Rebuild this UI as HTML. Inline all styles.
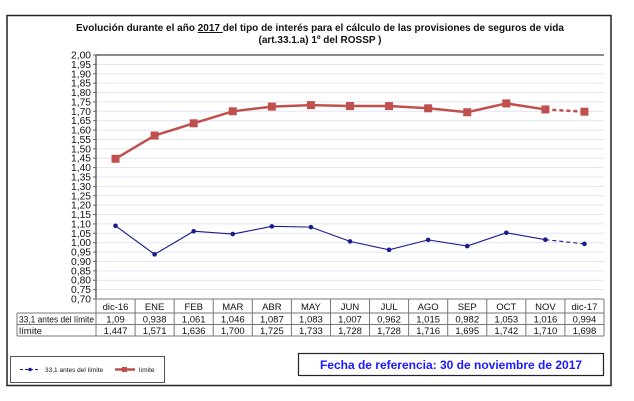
<!DOCTYPE html>
<html><head><meta charset="utf-8"><style>
html,body{margin:0;padding:0;background:#fff;}
svg{display:block;font-family:"Liberation Sans",Arial,sans-serif;}
</style></head><body>
<svg width="634" height="401" viewBox="0 0 634 401" xmlns="http://www.w3.org/2000/svg">
<rect x="0" y="0" width="634" height="401" fill="#fff"/>
<rect x="7" y="15.5" width="604" height="370" fill="#fff" stroke="#222" stroke-width="1.5"/>
<text x="320" y="31" font-size="10" font-weight="bold" text-anchor="middle" fill="#111">Evolución durante el año <tspan text-decoration="underline">2017 </tspan>del tipo de interés para el cálculo de las provisiones de seguros de vida</text>
<text x="320" y="43" font-size="10" font-weight="bold" text-anchor="middle" fill="#111">(art.33.1.a) 1º del ROSSP )</text>
<g id="grid"></g>
<g id="tbl"></g>
<g id="series"></g>
<rect x="10.5" y="356.5" width="154" height="26" fill="#fff" stroke="#555" stroke-width="1"/>
<line x1="20" y1="369.5" x2="40" y2="369.5" stroke="#1a1a8c" stroke-width="1" stroke-dasharray="3,2"/>
<circle cx="30" cy="369.5" r="1.8" fill="#1a1a8c"/>
<text x="45" y="372" font-size="6.5" fill="#111">33,1 antes del límite</text>
<line x1="115" y1="369.5" x2="135" y2="369.5" stroke="#c0504d" stroke-width="2.5"/>
<rect x="122" y="367" width="5" height="5" fill="#c0504d"/>
<text x="139" y="372" font-size="6.5" fill="#111">límite</text>
<rect x="298.5" y="353.5" width="305" height="22" fill="#fff" stroke="#222" stroke-width="1.2"/>
<text x="451" y="369" font-size="12" font-weight="bold" text-anchor="middle" fill="#1a1aff">Fecha de referencia: 30 de noviembre de 2017</text>
</svg>
<script>
const ns="http://www.w3.org/2000/svg";
function el(p,t,a,txt){const e=document.createElementNS(ns,t);for(const k in a)e.setAttribute(k,a[k]);if(txt!==undefined)e.textContent=txt;p.appendChild(e);return e;}
const L=96,R=604,T=55,B=299;
const Y=v=>B-(v-0.70)/1.30*(B-T);
const cw=(R-L)/13, X=i=>L+cw*(i+0.5);
const g=document.getElementById('grid');
for(let i=0;i<=26;i++){const v=0.70+i*0.05,y=Y(v);
 if(i>0&&i<26) el(g,'line',{x1:L,y1:y,x2:R,y2:y,stroke:'#dfe6f0','stroke-width':1});
 el(g,'line',{x1:L-3,y1:y,x2:L,y2:y,stroke:'#666','stroke-width':1});
 el(g,'text',{x:L-5,y:y+3.5,'font-size':10,'text-anchor':'end',fill:'#111','textLength':20,'lengthAdjust':'spacingAndGlyphs'},v.toFixed(2).replace('.',','));}
el(g,'line',{x1:L,y1:T,x2:R,y2:T,stroke:'#444','stroke-width':1.2});
el(g,'line',{x1:L,y1:T,x2:L,y2:B,stroke:'#666','stroke-width':1.5});
const cats=['dic-16','ENE','FEB','MAR','ABR','MAY','JUN','JUL','AGO','SEP','OCT','NOV','dic-17'];
const a=['1,09','0,938','1,061','1,046','1,087','1,083','1,007','0,962','1,015','0,982','1,053','1,016','0,994'];
const b=['1,447','1,571','1,636','1,700','1,725','1,733','1,728','1,728','1,716','1,695','1,742','1,710','1,698'];
const t=document.getElementById('tbl');
const st={stroke:'#777','stroke-width':1};
el(t,'line',Object.assign({x1:L,y1:299,x2:R,y2:299},st));
el(t,'line',Object.assign({x1:17,y1:313,x2:R,y2:313},st));
el(t,'line',Object.assign({x1:17,y1:324.5,x2:R,y2:324.5},st));
el(t,'line',Object.assign({x1:17,y1:336,x2:R,y2:336},st));
el(t,'line',Object.assign({x1:17,y1:313,x2:17,y2:336},st));
for(let i=0;i<=13;i++){const x=L+cw*i;el(t,'line',Object.assign({x1:x,y1:299,x2:x,y2:336},st));}
el(t,'text',{x:19,y:322.5,'font-size':9.5,fill:'#111',textLength:75,lengthAdjust:'spacingAndGlyphs'},'33,1 antes del límite');
el(t,'text',{x:19,y:334,'font-size':9.5,fill:'#111',textLength:23,lengthAdjust:'spacingAndGlyphs'},'límite');
cats.forEach((c,i)=>{
 el(t,'text',{x:X(i),y:310,'font-size':9.5,'text-anchor':'middle',fill:'#111'},c);
 el(t,'text',{x:X(i),y:322.5,'font-size':9.5,'text-anchor':'middle',fill:'#111'},a[i]);
 el(t,'text',{x:X(i),y:334,'font-size':9.5,'text-anchor':'middle',fill:'#111'},b[i]);
});
const s=document.getElementById('series');
const av=a.map(v=>parseFloat(v.replace(',','.'))), bv=b.map(v=>parseFloat(v.replace(',','.')));
function line(vals,col,w){let p='';for(let i=0;i<12;i++)p+=(i?'L':'M')+X(i)+' '+Y(vals[i]);
 el(s,'path',{d:p,fill:'none',stroke:col,'stroke-width':w});
 el(s,'line',{x1:X(11),y1:Y(vals[11]),x2:X(12),y2:Y(vals[12]),stroke:col,'stroke-width':w,'stroke-dasharray':'4,3'});}
line(bv,'#c0504d',2.5);
bv.forEach((v,i)=>el(s,'rect',{x:X(i)-4,y:Y(v)-4,width:8,height:8,fill:'#c0504d'}));
line(av,'#1a1a8c',1.1);
av.forEach((v,i)=>el(s,'circle',{cx:X(i),cy:Y(v),r:2.3,fill:'#1a1a8c'}));
</script>
</body></html>
